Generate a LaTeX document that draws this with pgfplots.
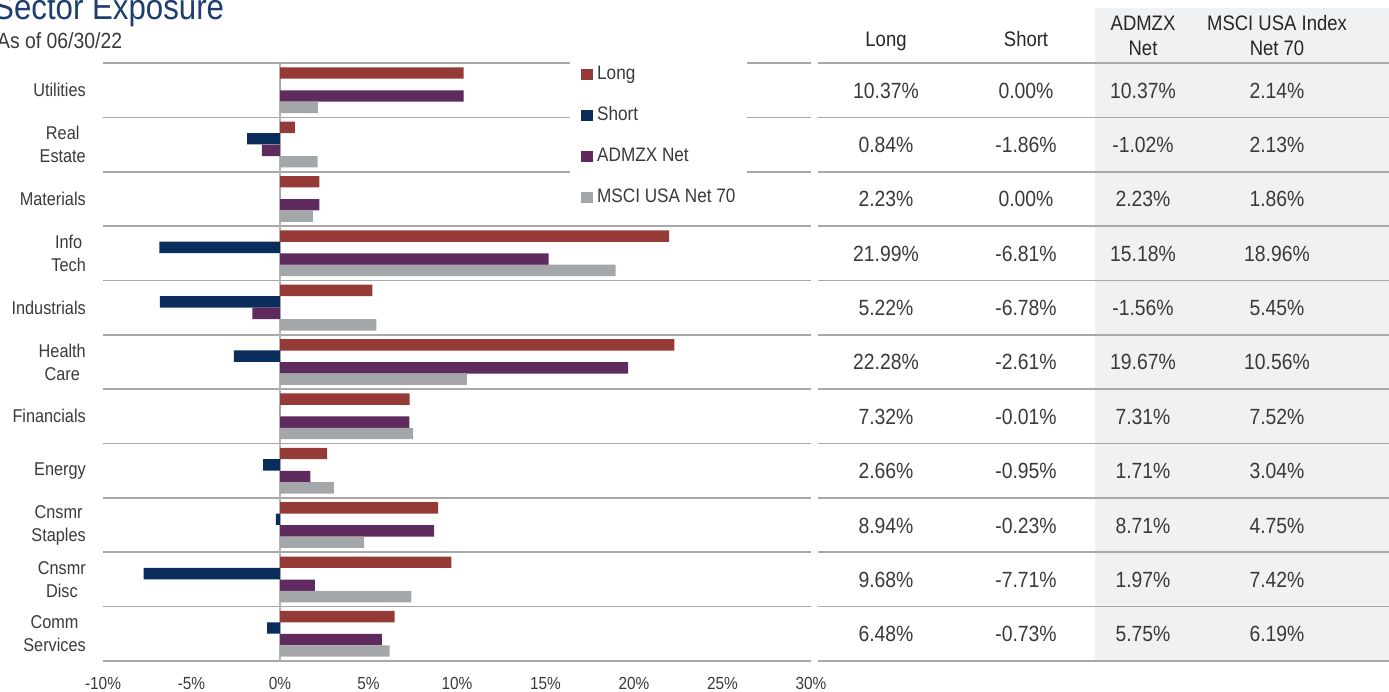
\documentclass[border=0pt]{standalone}
\usepackage{pgfplots}
\pgfplotsset{compat=1.18}
\usepackage{pgfplotstable}
\usepackage{fontspec}
\setmainfont{Liberation Sans}[FakeStretch=0.88]
\definecolor{cLong}{HTML}{963A38}
\definecolor{cShort}{HTML}{0B2D5B}
\definecolor{cNet}{HTML}{5F2A5E}
\definecolor{cMSCI}{HTML}{A4A7AA}
\definecolor{cGrid}{HTML}{A8A8A8}
\definecolor{cZero}{HTML}{B4B4B4}
\definecolor{cShade}{HTML}{F0F1F3}
\definecolor{cText}{HTML}{3A3A3A}
\definecolor{cTitle}{HTML}{1D3E6E}

% y: Utilities = 10 ... Comm Services = 0
\pgfplotstableread{
y long short net msci
10 10.37 0.00 10.37 2.14
9 0.84 -1.86 -1.02 2.13
8 2.23 0.00 2.23 1.86
7 21.99 -6.81 15.18 18.96
6 5.22 -6.78 -1.56 5.45
5 22.28 -2.61 19.67 10.56
4 7.32 -0.01 7.31 7.52
3 2.66 -0.95 1.71 3.04
2 8.94 -0.23 8.71 4.75
1 9.68 -7.71 1.97 7.42
0 6.48 -0.73 5.75 6.19
}\data

\begin{document}
\begin{tikzpicture}[x=1pt,y=1pt]
\useasboundingbox (0,0) rectangle (1389,692);
% shaded columns of the table
\fill[cShade] (1095,684) rectangle (1389,31);
% table rules
\foreach \k in {0,...,11} {
  \draw[cGrid, line width=1.6pt] (818,{629-54.36*\k}) -- (1389,{629-54.36*\k});
}
% title
\node[anchor=base west, inner sep=0pt, text=cTitle, font=\fontsize{35.5}{40}\selectfont] at (-7,672) {Sector Exposure};
\node[anchor=base west, inner sep=0pt, text=cText, font=\fontsize{22}{26}\selectfont] at (-3,643) {As of 06/30/22};
% table header
\begin{scope}[every node/.style={anchor=base, inner sep=0pt, text=black!85, font=\fontsize{21}{25}\selectfont}]
\node at (886,645) {Long};
\node at (1026,645) {Short};
\node at (1143,661) {ADMZX};
\node at (1143,636) {Net};
\node at (1277,661) {MSCI USA Index};
\node at (1277,636) {Net 70};
\end{scope}
% table values
\begin{scope}[every node/.style={anchor=base, inner sep=0pt, text=cText, font=\fontsize{22}{26}\selectfont}]
\foreach \i/\a/\b/\c/\d in {
0/10.37/0.00/10.37/2.14,
1/0.84/-1.86/-1.02/2.13,
2/2.23/0.00/2.23/1.86,
3/21.99/-6.81/15.18/18.96,
4/5.22/-6.78/-1.56/5.45,
5/22.28/-2.61/19.67/10.56,
6/7.32/-0.01/7.31/7.52,
7/2.66/-0.95/1.71/3.04,
8/8.94/-0.23/8.71/4.75,
9/9.68/-7.71/1.97/7.42,
10/6.48/-0.73/5.75/6.19} {
  \node at (886,{629-54.36*(\i+0.5)-8}) {\a\%};
  \node at (1026,{629-54.36*(\i+0.5)-8}) {\b\%};
  \node at (1143,{629-54.36*(\i+0.5)-8}) {\c\%};
  \node at (1277,{629-54.36*(\i+0.5)-8}) {\d\%};
}
\end{scope}
\begin{axis}[
  at={(103pt,31pt)}, anchor=south west,
  scale only axis, width=708pt, height=598pt,
  xmin=-10, xmax=30, ymin=-0.5, ymax=10.5,
  clip=false,
  axis line style={draw=none},
  major tick length=0pt, minor tick length=0pt,
  xtick={-10,-5,...,30},
  xticklabels={-10\%,-5\%,0\%,5\%,10\%,15\%,20\%,25\%,30\%},
  xticklabel style={font=\fontsize{17.5}{20}\selectfont, text=cText, inner sep=0pt, yshift=-16.5pt},
  ytick={0,...,10},
  yticklabels={{Comm\\Services},{Cnsmr\\Disc},{Cnsmr\\Staples},Energy,Financials,{Health\\Care},Industrials,{Info\\Tech},Materials,{Real\\Estate},Utilities},
  yticklabel style={align=center, font=\fontsize{18.5}{23}\selectfont, text=cText, inner sep=0pt, xshift=-17pt},
  minor ytick={-0.5,0.5,...,10.5},
  yminorgrids=true,
  minor grid style={cGrid, line width=1.6pt},
  extra x ticks={0}, extra x tick labels={},
  extra x tick style={xmajorgrids=true, major grid style={cZero, line width=1.6pt}},
  legend image code/.code={\fill[#1] (0pt,-5.5pt) rectangle (12pt,5.5pt);},
  legend cell align=left,
  legend style={at={(0.6596,1.0084)}, anchor=north west, draw=none, fill=white,
    inner xsep=11pt, inner ysep=6pt, row sep=21pt, column sep=3pt, text=cText,
    font=\fontsize{19.5}{22}\selectfont,
    nodes={inner sep=1pt, text height=14pt, text depth=4pt}},
]
\addplot[xbar, bar width=0.21, bar shift=0.316, fill=cLong, draw=none] table[x=long, y=y] {\data};
\addlegendentry{Long}
\addplot[xbar, bar width=0.21, bar shift=0.107, fill=cShort, draw=none] table[x=short, y=y] {\data};
\addlegendentry{Short}
\addplot[xbar, bar width=0.21, bar shift=-0.107, fill=cNet, draw=none] table[x=net, y=y] {\data};
\addlegendentry{ADMZX Net}
\addplot[xbar, bar width=0.21, bar shift=-0.316, fill=cMSCI, draw=none] table[x=msci, y=y] {\data};
\addlegendentry{MSCI USA Net 70}
\end{axis}
\end{tikzpicture}
\end{document}
